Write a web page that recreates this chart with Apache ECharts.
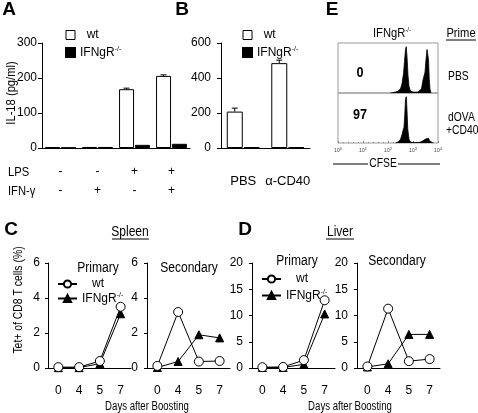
<!DOCTYPE html>
<html><head><meta charset="utf-8">
<script src="https://cdn.jsdelivr.net/npm/echarts@6/dist/echarts.min.js"></script>
<style>html,body{margin:0;padding:0;background:#fff}#c{width:478px;height:413px}</style>
</head><body><div id="c"></div>
<script>
const FONT = '"Liberation Sans", Arial, Helvetica, sans-serif';
// ---- Panel A: IL-18 (pg/ml)
const aLps = ['-', '-', '+', '+'];
const aIfn = ['-', '+', '-', '+'];
const aWt = [2, 3, 168, 206];
const aWtErr = [0, 0, 3, 3];
const aKo = [1, 3, 9, 12];
const aTicks = [0, 100, 200, 300];
// ---- Panel B
const bCategories = ['PBS', 'α-CD40'];
const bWt = [208, 485];
const bWtErr = [20, 17];
const bKo = [4, 4];
const bTicks = [0, 200, 400, 600];
// ---- Panel E: CFSE histograms (log10 intensity, % of max)
const eDecades = [0, 1, 2, 3, 4];
const ePbs = [[2.1,0],[2.2,1],[2.3,2],[2.4,4],[2.5,9],[2.56,20],[2.62,42],[2.66,68],[2.70,94],[2.73,100],[2.76,78],[2.80,38],[2.84,14],[2.9,4],[3.0,2],[3.1,2],[3.2,2],[3.28,3],[3.34,9],[3.40,28],[3.44,32],[3.48,45],[3.52,72],[3.56,94],[3.59,98],[3.62,72],[3.65,30],[3.68,8],[3.72,0]];
const eDova = [[2.3,0],[2.4,2],[2.5,8],[2.56,18],[2.6,27],[2.64,34],[2.67,60],[2.70,94],[2.73,100],[2.76,70],[2.79,30],[2.84,8],[2.9,2],[3.0,1],[3.2,1],[3.3,2],[3.4,5],[3.46,8],[3.52,9],[3.58,12],[3.62,10],[3.66,5],[3.72,1],[3.8,0]];
const ePercent = ['0', '97'];
const ePrime = ['PBS', 'dOVA', '+CD40'];
// ---- Panels C / D: Tet+ of CD8 T cells (%)
const days = ['0', '4', '5', '7'];
const cPrimWt = [0.05, 0.05, 0.4, 3.5];
const cPrimKo = [0.02, 0.02, 0.25, 3.1];
const cSecWt = [0.12, 3.2, 0.37, 0.4];
const cSecKo = [0.03, 0.37, 1.9, 1.72];
const dPrimWt = [0.15, 0.2, 1.5, 12.9];
const dPrimKo = [0.1, 0.1, 0.7, 10.3];
const dSecWt = [0.3, 11.3, 1.3, 1.7];
const dSecKo = [0.2, 0.8, 6.4, 6.4];
const cTicks = [0, 2, 4, 6];
const dTicks = [0, 5, 10, 15, 20];

const chart = echarts.init(document.getElementById('c'), null, {renderer: 'canvas'});
const black = '#000';
const supRich = {sup: {fontSize: 7, fontFamily: FONT, color: black, verticalAlign: 'top', padding: [0, 0, 6, 0]}};

function errSeries(xi, vals, errs, offset) {
  return {type: 'custom', xAxisIndex: xi, yAxisIndex: xi, silent: true, z: 5,
    data: vals.map((v, i) => [i, v, errs[i]]),
    encode: {x: 0, y: 1},
    renderItem: (params, api) => {
      const i = api.value(0), v = api.value(1), e = api.value(2);
      if (!e) return null;
      const b = api.coord([i, v]); const t = api.coord([i, v + e]);
      const x = b[0] + offset;
      return {type: 'group', children: [
        {type: 'line', shape: {x1: x, y1: b[1], x2: x, y2: t[1]}, style: {stroke: black, lineWidth: 1}},
        {type: 'line', shape: {x1: x - 3, y1: t[1], x2: x + 3, y2: t[1]}, style: {stroke: black, lineWidth: 1}}
      ]};
    }};
}
function yBar(idx, ticks, margin) {
  return {gridIndex: idx, type: 'value', min: ticks[0], max: ticks[ticks.length - 1], interval: ticks[1] - ticks[0],
    axisLine: {show: true, lineStyle: {color: black}}, axisTick: {show: true, length: 4, lineStyle: {color: black}},
    splitLine: {show: false}, axisLabel: {color: black, fontSize: 12, fontFamily: FONT, margin: margin}};
}
function yLine(idx, ticks, margin) {
  return {gridIndex: idx, type: 'value', min: ticks[0], max: ticks[ticks.length - 1], interval: ticks[1] - ticks[0],
    axisLine: {show: true, lineStyle: {color: black}}, axisTick: {show: true, length: 3, lineStyle: {color: black}},
    splitLine: {show: false}, axisLabel: {color: black, fontSize: 12, fontFamily: FONT, margin: margin}};
}
function xDays(idx) {
  return {gridIndex: idx, type: 'category', data: days, boundaryGap: true,
    axisLine: {lineStyle: {color: black}}, axisTick: {show: false},
    axisLabel: {color: black, fontSize: 12, fontFamily: FONT, margin: 17, interval: 0}};
}
function lineSeries(name, idx, data, tri) {
  return {type: 'line', name: name, xAxisIndex: idx, yAxisIndex: idx, data: data,
    symbol: tri ? 'triangle' : 'circle', symbolSize: tri ? 8 : 9,
    lineStyle: {color: black, width: 1},
    itemStyle: {color: tri ? black : '#fff', borderColor: black, borderWidth: 1},
    z: tri ? 3 : 4};
}
function legendLines(left, top, gap, suffix) {
  return {left: left, top: top, orient: 'vertical', itemWidth: 19, itemHeight: 9, itemGap: gap,
    data: ['wt|' + suffix, 'KO|' + suffix],
    formatter: n => n.startsWith('wt') ? '   wt' : 'IFNgR{sup|-/-}',
    textStyle: {color: black, fontSize: 12, fontFamily: FONT, rich: supRich}, selectedMode: false};
}
function legendBars(left, top, suffix) {
  return {left: left, top: top, orient: 'vertical', itemWidth: 9, itemHeight: 9, itemGap: 5,
    data: [{name: 'wt|' + suffix, icon: 'rect', itemStyle: {color: '#fff', borderColor: black, borderWidth: 1}},
           {name: 'KO|' + suffix, icon: 'rect', itemStyle: {color: black}}],
    formatter: n => n.startsWith('wt') ? '  wt' : 'IFNgR{sup|-/-}',
    textStyle: {color: black, fontSize: 12, fontFamily: FONT, rich: supRich}, selectedMode: false};
}
function txt(x, y, s, o) {
  o = o || {};
  const el = {type: 'text', x: x, y: y, silent: true, scaleX: o.sx || 0.86,
    style: Object.assign({text: s, fill: black, font: '13px ' + FONT, textAlign: 'center', textVerticalAlign: 'middle'}, o.style || {})};
  if (o.rot) el.rotation = o.rot;
  return el;
}
function hline(x1, x2, y) {
  return {type: 'line', silent: true, shape: {x1: x1, y1: y, x2: x2, y2: y}, style: {stroke: black, lineWidth: 1}};
}
const BOLD = 'bold 19px ' + FONT;

const option = {
  animation: false,
  backgroundColor: '#fff',
  textStyle: {fontFamily: FONT},
  grid: [
    {left: 42, top: 43, width: 148, height: 105},   // 0 A
    {left: 221, top: 43, width: 89, height: 105},   // 1 B
    {left: 338, top: 43, width: 100, height: 50, show: true, borderColor: '#999', borderWidth: 1}, // 2 E top
    {left: 338, top: 93, width: 100, height: 50, show: true, borderColor: '#999', borderWidth: 1}, // 3 E bottom
    {left: 48, top: 263, width: 83, height: 105},   // 4 C primary
    {left: 147, top: 263, width: 83, height: 105},  // 5 C secondary
    {left: 252, top: 263, width: 83, height: 105},  // 6 D primary
    {left: 357, top: 263, width: 83, height: 105}   // 7 D secondary
  ],
  xAxis: [
    {gridIndex: 0, type: 'category', data: aLps.map((l, i) => l + '\n' + aIfn[i]),
      axisLine: {lineStyle: {color: black}}, axisTick: {show: false},
      axisLabel: {color: black, fontSize: 12, fontFamily: FONT, lineHeight: 19, margin: 14, interval: 0}},
    {gridIndex: 1, type: 'category', data: bCategories,
      axisLine: {lineStyle: {color: black}}, axisTick: {show: false},
      axisLabel: {color: black, fontSize: 13, fontFamily: FONT, margin: 27, interval: 0}},
    {gridIndex: 2, type: 'value', min: 0, max: 4, interval: 1, show: false},
    {gridIndex: 3, type: 'value', min: 0, max: 4, interval: 1,
      axisLine: {show: false}, splitLine: {show: false},
      axisTick: {show: true, inside: true, length: 2, lineStyle: {color: '#888'}},
      minorTick: {show: true, splitNumber: 5, length: 1, lineStyle: {color: '#888'}},
      axisLabel: {color: '#444', fontSize: 5, fontFamily: FONT, margin: 4,
        formatter: v => eDecades.includes(v) ? '10{s|' + v + '}' : '',
        rich: {s: {fontSize: 4, verticalAlign: 'top', padding: [0, 0, 3, 0]}}}},
    xDays(4), xDays(5), xDays(6), xDays(7)
  ],
  yAxis: [
    yBar(0, aTicks, 5),
    yBar(1, bTicks, 10),
    {gridIndex: 2, type: 'value', min: 0, max: 108, show: false},
    {gridIndex: 3, type: 'value', min: 0, max: 108, show: false},
    yLine(4, cTicks, 8), yLine(5, cTicks, 9), yLine(6, dTicks, 9), yLine(7, dTicks, 9)
  ],
  legend: [legendBars(60, 24, 'A'), legendBars(237, 24, 'B'), legendLines(52, 273, 2, 'C'), legendLines(256, 268, 4, 'D')],
  series: [
    {type: 'bar', name: 'wt|A', xAxisIndex: 0, yAxisIndex: 0, data: aWt, barWidth: 15, barGap: '6%',
      itemStyle: {color: '#fff', borderColor: black, borderWidth: 1}},
    {type: 'bar', name: 'KO|A', xAxisIndex: 0, yAxisIndex: 0, data: aKo, barWidth: 15, barGap: '6%',
      itemStyle: {color: black, borderColor: black, borderWidth: 1}},
    errSeries(0, aWt, aWtErr, -8),
    {type: 'bar', name: 'wt|B', xAxisIndex: 1, yAxisIndex: 1, data: bWt, barWidth: 16, barGap: '6%',
      itemStyle: {color: '#fff', borderColor: black, borderWidth: 1}},
    {type: 'bar', name: 'KO|B', xAxisIndex: 1, yAxisIndex: 1, data: bKo, barWidth: 16, barGap: '6%',
      itemStyle: {color: black, borderColor: black, borderWidth: 1}},
    errSeries(1, bWt, bWtErr, -8.5),
    {type: 'line', xAxisIndex: 2, yAxisIndex: 2, data: ePbs, symbol: 'none',
      lineStyle: {color: black, width: 0.8}, areaStyle: {color: black, opacity: 1}},
    {type: 'line', xAxisIndex: 3, yAxisIndex: 3, data: eDova, symbol: 'none',
      lineStyle: {color: black, width: 0.8}, areaStyle: {color: black, opacity: 1}},
    lineSeries('wt|C', 4, cPrimWt, false), lineSeries('KO|C', 4, cPrimKo, true),
    lineSeries('wt|C', 5, cSecWt, false), lineSeries('KO|C', 5, cSecKo, true),
    lineSeries('wt|D', 6, dPrimWt, false), lineSeries('KO|D', 6, dPrimKo, true),
    lineSeries('wt|D', 7, dSecWt, false), lineSeries('KO|D', 7, dSecKo, true)
  ],
  graphic: [
    txt(9, 10, 'A', {sx: 1, style: {font: BOLD}}),
    txt(182, 10, 'B', {sx: 1, style: {font: BOLD}}),
    txt(332, 10, 'E', {sx: 1, style: {font: BOLD}}),
    txt(11, 230, 'C', {sx: 1, style: {font: BOLD}}),
    txt(245, 230, 'D', {sx: 1, style: {font: BOLD}}),
    txt(11, 93, 'IL-18 (pg/ml)', {rot: Math.PI / 2}),
    txt(8, 172, 'LPS', {style: {textAlign: 'left'}}),
    txt(8, 191, 'IFN-γ', {style: {textAlign: 'left'}}),
    // Panel E texts
    {type: 'text', x: 392, y: 33, silent: true, scaleX: 0.86, style: {text: 'IFNgR{sup|-/-}', rich: supRich, fill: black, font: '13px ' + FONT, textAlign: 'center', textVerticalAlign: 'middle'}},
    txt(461, 33, 'Prime'), hline(446, 476, 40),
    txt(448, 77, ePrime[0], {style: {textAlign: 'left', font: '12px ' + FONT}}),
    txt(448, 118, ePrime[1], {style: {textAlign: 'left', font: '12px ' + FONT}}),
    txt(446, 131, ePrime[2], {style: {textAlign: 'left', font: '12px ' + FONT}}),
    txt(360, 73, ePercent[0], {sx: 0.9, style: {font: 'bold 14px ' + FONT}}),
    txt(360, 115, ePercent[1], {sx: 0.9, style: {font: 'bold 14px ' + FONT}}),
    txt(383, 164, 'CFSE', {style: {font: '12px ' + FONT}}),
    hline(333, 368, 164), hline(398, 440, 164),
    // C / D texts
    txt(130, 232, 'Spleen', {style: {font: '14px ' + FONT}}), hline(112, 149, 239),
    txt(340, 232, 'Liver', {style: {font: '14px ' + FONT}}), hline(326, 354, 239),
    txt(98, 268, 'Primary', {style: {font: '14px ' + FONT}}),
    txt(189, 268, 'Secondary', {style: {font: '14px ' + FONT}}),
    txt(297, 261, 'Primary', {style: {font: '14px ' + FONT}}),
    txt(397, 261, 'Secondary', {style: {font: '14px ' + FONT}}),
    txt(18, 300, 'Tet+ of CD8 T cells (%)', {rot: Math.PI / 2, sx: 0.8, style: {font: '13px ' + FONT}}),
    txt(147, 407, 'Days after Boosting', {sx: 0.8, style: {font: '12px ' + FONT}}),
    txt(350, 407, 'Days after Boosting', {sx: 0.8, style: {font: '12px ' + FONT}})
  ]
};
chart.setOption(option);
</script></body></html>
